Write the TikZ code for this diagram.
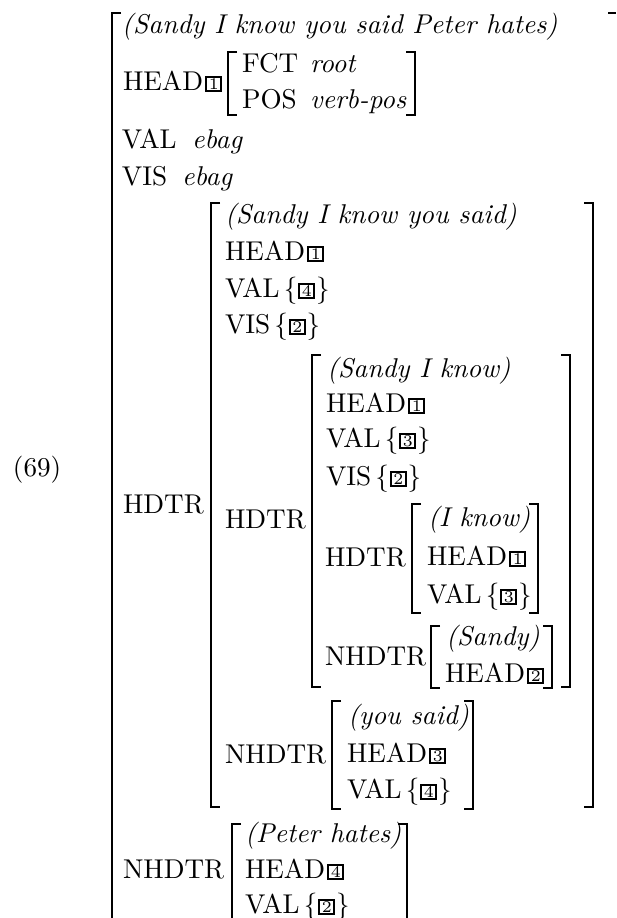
\documentclass[tikz,border=0pt]{standalone}
\newcommand{\tbox}[1]{\raisebox{0pt}{\setlength{\fboxsep}{0pt}\setlength{\fboxrule}{0.7pt}\fbox{\makebox[4.9pt]{\rule{0pt}{4.4pt}\raisebox{0.3pt}{\fontsize{6}{6}\selectfont#1}}}}}
\newcommand{\hd}[1]{HEAD\kern0.8pt\tbox{#1}}
\newcommand{\vl}[2]{#1\kern1.5pt$\{$\kern0.3pt\tbox{#2}\kern0.3pt$\}$}
\tikzset{
  txt/.style={anchor=base west, inner sep=0pt, outer sep=0pt},
  brk/.style={line width=0.65pt, line cap=butt, line join=miter}
}
% left bracket: x, top, bottom
\newcommand{\lbr}[3]{\draw[brk] (#1,#2) ++(9,0) -- ++(-9,0) -- (#1,#3) -- ++(9,0);}
\newcommand{\rbr}[3]{\draw[brk] (#1,#2) ++(-9,0) -- ++(9,0) -- (#1,#3) -- ++(-9,0);}
\begin{document}
\begin{tikzpicture}[x=0.368pt, y=-0.368pt]
\useasboundingbox (0,0) rectangle (616,918);

% label
\node[txt] (lab) at (13,476) {(69)};

% outer bracket (cut off by the frame)
\draw[brk] (121,13) -- (112,13) -- (112,918);
\draw[brk] (608,13) -- (616,13);

% top level
\node[txt] (t1) at (122,33) {\textit{(Sandy I know you said Peter hates)}};
\node[txt] (t2) at (123,90) {\hd{1}};
\lbr{228}{52}{115}
\rbr{415}{52}{115}
\node[txt] (fct) at (242,72) {FCT};
\node[txt] (fctv) at (310,72) {\textit{root}};
\node[txt] (pos) at (242,108) {POS};
\node[txt] (posv) at (310,108) {\textit{verb-pos}};
\node[txt] (val0) at (122,148) {VAL};
\node[txt] (val0v) at (192,148) {\textit{ebag}};
\node[txt] (vis0) at (122,185) {VIS};
\node[txt] (vis0v) at (182,185) {\textit{ebag}};
\node[txt] (hdtr0) at (123,513) {HDTR};
\node[txt] (nhdtr0) at (123,878) {NHDTR};

% level 2 (Sandy I know you said)
\lbr{211}{203}{807}
\rbr{593}{203}{807}
\node[txt] (a1) at (225,223) {\textit{(Sandy I know you said)}};
\node[txt] (a2) at (225,260) {\hd{1}};
\node[txt] (a3) at (225,297) {\vl{VAL}{4}};
\node[txt] (a4) at (225,333) {\vl{VIS}{2}};
\node[txt] (hdtr1) at (225,528) {HDTR};
\node[txt] (nhdtr1) at (225,763) {NHDTR};

% level 3 (Sandy I know)
\lbr{312}{355}{687}
\rbr{570}{355}{687}
\node[txt] (b1) at (327,377) {\textit{(Sandy I know)}};
\node[txt] (b2) at (326,412) {\hd{1}};
\node[txt] (b3) at (326,447) {\vl{VAL}{3}};
\node[txt] (b4) at (326,485) {\vl{VIS}{2}};
\node[txt] (hdtr2) at (325,566) {HDTR};
\node[txt] (nhdtr2) at (325,665) {NHDTR};

% level 4 (I know)
\lbr{412}{504}{613}
\rbr{538}{504}{613}
\node[txt] (c1) at (428,526) {\textit{(I know)}};
\node[txt] (c2) at (427,565) {\hd{1}};
\node[txt] (c3) at (427,603) {\vl{VAL}{3}};

% level 4 (Sandy)
\lbr{431}{626}{688}
\rbr{552}{626}{688}
\node[txt] (d1) at (446,645) {\textit{(Sandy)}};
\node[txt] (d2) at (445,682) {\hd{2}};

% level 3 (you said)
\lbr{332}{701}{809}
\rbr{473}{701}{809}
\node[txt] (e1) at (348,724) {\textit{(you said)}};
\node[txt] (e2) at (347,762) {\hd{3}};
\node[txt] (e3) at (347,798) {\vl{VAL}{4}};

% level 2 (Peter hates)
\draw[brk] (241,824) -- (232,824) -- (232,918);
\draw[brk] (398,824) -- (407,824) -- (407,918);
\node[txt] (f1) at (245,842) {\textit{(Peter hates)}};
\node[txt] (f2) at (245,878) {\hd{4}};
\node[txt] (f3) at (245,913) {\vl{VAL}{2}};
\end{tikzpicture}
\end{document}
